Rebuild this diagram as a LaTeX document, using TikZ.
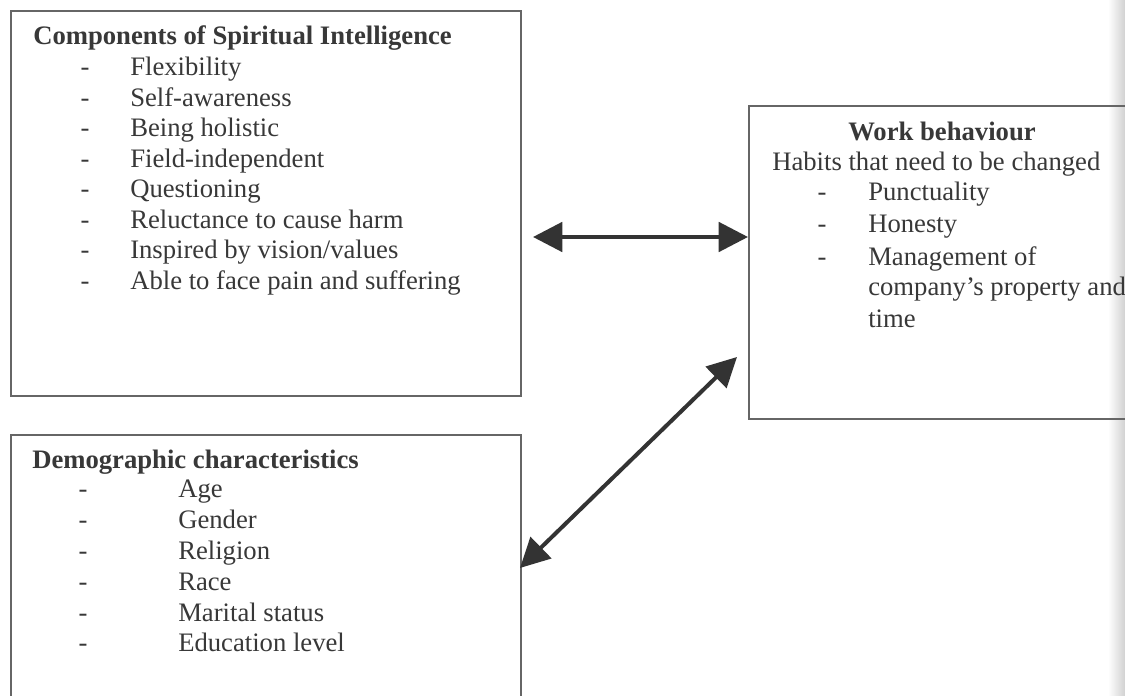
\documentclass[tikz,border=0pt]{standalone}
\usepackage{fontspec}
\setmainfont{Liberation Serif}
\usetikzlibrary{arrows.meta}
\begin{document}
\begin{tikzpicture}[x=0.75pt,y=-0.75pt,
  box/.style={draw=black!60, line width=1.4pt, anchor=north west, inner sep=0pt},
  txt/.style={anchor=base west, inner sep=0pt, text=black!78, font=\fontsize{20pt}{23pt}\selectfont},
  hd/.style={txt, font=\fontsize{20pt}{23pt}\selectfont\bfseries},
  dashmark/.style={anchor=base, inner sep=0pt, text=black!78, font=\fontsize{20pt}{23pt}\selectfont},
  arr/.style={draw=black!80, line width=3pt, {Triangle[length=22pt,width=22pt]}-{Triangle[length=22pt,width=22pt]}}]
\path[use as bounding box] (0,0) rectangle (1125,696);
\clip (0,0) rectangle (1125,696);
\fill[white] (0,0) rectangle (1125,696);
\shade[left color=white, right color=black!18] (1108,0) rectangle (1125,696);

% boxes
\node[box, minimum width=382.5pt, minimum height=288.75pt] (b1) at (10,10) {};
\node[box, minimum width=382.5pt, minimum height=215pt] (b2) at (10,434) {};
\node[box, minimum width=300pt, minimum height=234.75pt] (b3) at (748,105) {};

% box 1 text
\node[hd] (h1) at (33,45) {Components of Spiritual Intelligence};
\foreach \t [count=\i] in {Flexibility,Self-awareness,Being holistic,Field-independent,Questioning,Reluctance to cause harm,Inspired by vision/values,Able to face pain and suffering}{
  \node[dashmark] (d1\i) at (85,45+30.5*\i) {-};
  \node[txt] (a\i) at (130,45+30.5*\i) {\t};
}

% box 2 text
\node[hd] (h2) at (32,468) {Demographic characteristics};
\foreach \t [count=\i] in {Age,Gender,Religion,Race,Marital status,Education level}{
  \node[dashmark] (d2\i) at (83,467+30.8*\i) {-};
  \node[txt] (c\i) at (178,467+30.8*\i) {\t};
}

% box 3 text
\node[hd, anchor=base] (h3) at (942,140) {Work behaviour};
\node[txt] (w0) at (772,170) {Habits that need to be changed};
\node[dashmark] (e1) at (822,200) {-};
\node[txt] (w1) at (868,200) {Punctuality};
\node[dashmark] (e2) at (822,232) {-};
\node[txt] (w2) at (868,232) {Honesty};
\node[dashmark] (e3) at (822,265) {-};
\node[txt] (w3) at (868,265) {Management of};
\node[txt] (w4) at (868,295) {company’s property and};
\node[txt] (w5) at (868,327) {time};

% connectors
\coordinate (hA) at (533,237);
\draw[arr] (hA) -- (hA -| b3.west);
\coordinate (dA) at (737,357);
\coordinate (dB) at (520,568);
\draw[arr] (dB) -- (dA);
\end{tikzpicture}
\end{document}
